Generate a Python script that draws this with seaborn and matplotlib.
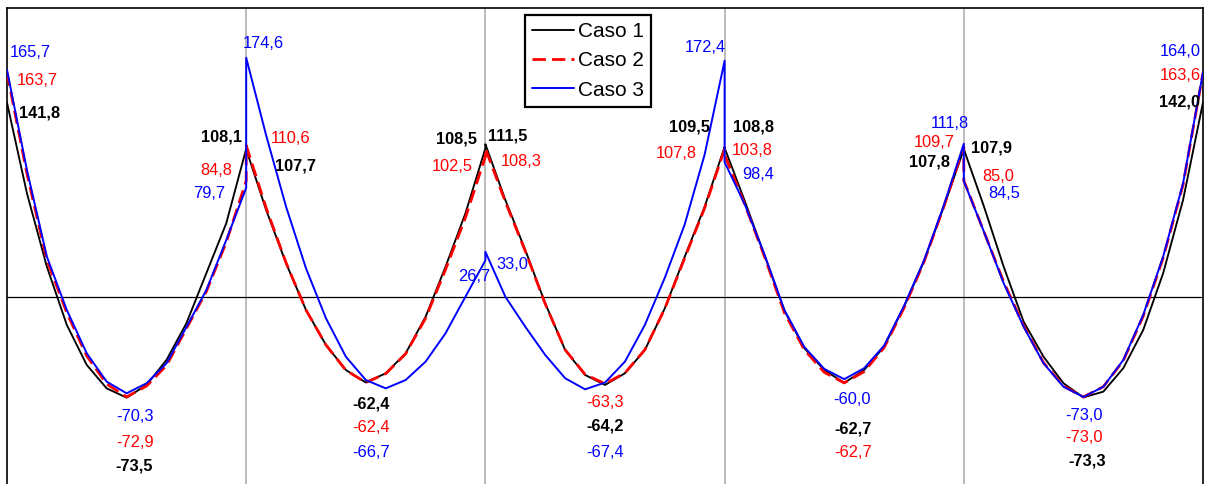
import matplotlib
matplotlib.use("Agg")
import matplotlib.pyplot as plt
import pandas as pd
import seaborn as sns

# Bending moment (kN·m) at 13 equally spaced sections of each of the 5 spans
casos = ["Caso 1", "Caso 2", "Caso 3"]

caso_1 = [
    [141.8, 75.7, 22.1, -20.4, -49.6, -66.7, -73.5, -64.2, -46.0, -19.2, 17.3, 53.8, 108.1],
    [107.7, 63.5, 24.6, -9.5, -35.0, -53.3, -62.4, -55.7, -41.1, -14.4, 22.1, 61.1, 108.5],
    [111.5, 70.8, 34.3, -4.6, -38.7, -56.9, -64.2, -55.7, -38.7, -8.3, 29.4, 65.9, 109.5],
    [108.8, 70.5, 30.5, -10.0, -37.4, -53.3, -62.7, -53.3, -36.3, -7.1, 26.0, 66.0, 107.8],
    [107.9, 66.5, 22.1, -18.0, -43.6, -63.0, -73.3, -69.1, -52.0, -24.1, 17.3, 70.8, 142.0],
]
caso_2 = [
    [163.7, 90.0, 27.0, -11.5, -43.0, -63.5, -72.9, -65.0, -50.0, -23.0, 4.0, 40.0, 84.8],
    [110.6, 65.0, 25.0, -9.5, -35.0, -53.5, -62.4, -56.0, -41.5, -15.5, 20.0, 58.0, 102.5],
    [108.3, 69.5, 33.5, -5.0, -38.5, -56.5, -63.3, -55.5, -38.5, -8.5, 28.5, 65.0, 107.8],
    [103.8, 68.0, 29.5, -11.5, -38.5, -55.0, -62.7, -54.5, -37.0, -8.0, 25.5, 66.0, 109.7],
    [85.0, 48.0, 11.0, -21.0, -48.0, -65.0, -73.0, -65.5, -46.5, -14.0, 28.5, 82.0, 163.6],
]
caso_3 = [
    [165.7, 92.7, 29.4, -9.5, -41.1, -61.8, -70.3, -63.0, -48.5, -22.0, 5.0, 41.6, 79.7],
    [174.6, 118.0, 65.9, 20.9, -15.5, -43.6, -60.6, -66.7, -60.6, -47.2, -26.5, 0.2, 26.7],
    [33.0, 0.2, -21.7, -42.3, -59.3, -67.4, -62.5, -47.2, -20.4, 14.0, 53.0, 104.0, 172.4],
    [98.4, 68.0, 31.0, -9.5, -36.5, -52.5, -60.0, -52.0, -35.5, -6.5, 26.5, 67.0, 111.8],
    [84.5, 48.0, 10.0, -21.7, -48.4, -65.5, -73.0, -65.5, -46.0, -13.1, 29.4, 83.0, 164.0],
]
momentos = [caso_1, caso_2, caso_3]

colores = ["#000000", "#ff0000", "#0000ff"]
anchos = [1.35, 2.0, 1.4]
estilos = ["-", (0, (4.8, 2.2)), "-"]

# Value labels: (case, span, anchor, alignment, dx px, dy px)
etiquetas = [
    (2, 0, "start", "left", 3, 17), (1, 0, "start", "left", 10, -8), (0, 0, "start", "left", 12, -10),
    (0, 0, "end", "right", -4, 12), (1, 0, "end", "right", -14, 10), (2, 0, "end", "right", -21, -6),
    (2, 1, "start", "center", 17, 14), (1, 1, "start", "left", 25, 6.5), (0, 1, "start", "left", 29, -17),
    (2, 0, "min", "center", 8, -23), (1, 0, "min", "center", 8, -46), (0, 0, "min", "center", 8, -68),
    (0, 1, "min", "center", 5.5, -21.5), (1, 1, "min", "center", 5.5, -45), (2, 1, "min", "center", 5.5, -64),
    (0, 1, "end", "right", -8, 9.5), (1, 1, "end", "right", -12.5, -9.5), (2, 1, "end", "right", 5, -16),
    (0, 2, "start", "left", 3, 8), (1, 2, "start", "left", 15, -12.5), (2, 2, "start", "left", 11, -12.5),
    (1, 2, "min", "center", 0, -19), (0, 2, "min", "center", 0, -41.5), (2, 2, "min", "center", 0, -63),
    (2, 2, "end", "center", -19.5, 13.5), (0, 2, "end", "right", -15, 19.5), (1, 2, "end", "right", -28, -4.5),
    (0, 3, "start", "left", 8, 20.5), (1, 3, "start", "left", 7, 4), (2, 3, "start", "left", 18, -12),
    (2, 3, "min", "center", 8, -20), (0, 3, "min", "center", 9, -46), (1, 3, "min", "center", 9, -69.5),
    (2, 3, "end", "center", -13.5, 20), (1, 3, "end", "right", -9, 4), (0, 3, "end", "right", -14, -13),
    (0, 4, "start", "left", 7, 1.5), (1, 4, "start", "left", 18.5, 4), (2, 4, "start", "left", 24, -12),
    (2, 4, "min", "center", 1, -18.5), (1, 4, "min", "center", 1, -40.5), (0, 4, "min", "center", 4, -63.5),
    (2, 4, "end", "right", -2, 21), (1, 4, "end", "right", -2, -3), (0, 4, "end", "right", -3, 0),
]

# Long-format table: one row per section, spans kept in order so the
# jumps at the supports are drawn as vertical segments
filas = []
for caso, datos in zip(casos, momentos):
    orden = 0
    for vano, valores in enumerate(datos):
        n = len(valores) - 1
        for k, m in enumerate(valores):
            filas.append({"caso": caso, "orden": orden, "x": vano + k / n, "M": m})
            orden += 1
df = pd.DataFrame(filas)

sns.set_style("white")
plt.rcParams["font.family"] = ["Liberation Sans", "DejaVu Sans"]
plt.rcParams["text.color"] = "black"

W, H = 1208, 484
fig = plt.figure(figsize=(W / 100, H / 100), dpi=100)
ax = fig.add_axes([7 / W, 0, (1203 - 7) / W, (H - 8) / H])

for i, caso in enumerate(casos):
    sub = df[df["caso"] == caso]
    sns.lineplot(data=sub, x="x", y="M", ax=ax, estimator=None, sort=False,
                 color=colores[i], linewidth=anchos[i], linestyle=estilos[i],
                 label=caso, zorder=3 + i)

for s in range(1, 5):
    ax.axvline(s, color="#a8a8a8", lw=1.1, zorder=1)
ax.axhline(0, color="black", lw=0.9, zorder=2)

ax.set_xlim(0, 5)
ax.set_ylim(-136.5, 210.9)
ax.set_xticks([])
ax.set_yticks([])
ax.set_xlabel("")
ax.set_ylabel("")
for lado in ("left", "top", "right"):
    ax.spines[lado].set_color("black")
    ax.spines[lado].set_linewidth(1.2)
ax.spines["bottom"].set_visible(False)


def fmt(v):
    return f"{v:.1f}".replace(".", ",")


for c, vano, ancla, ha, dx, dy in etiquetas:
    valores = momentos[c][vano]
    if ancla == "start":
        x, y = vano, valores[0]
    elif ancla == "end":
        x, y = vano + 1, valores[-1]
    else:
        x, y = vano + 0.5, min(valores)
    ax.annotate(fmt(y), xy=(x, y), xytext=(dx, dy), textcoords="offset pixels",
                ha=ha, va="center", fontsize=11.8, color=colores[c],
                fontweight="bold" if c == 0 else "normal",
                annotation_clip=False, zorder=6)

leg = ax.legend(loc="upper left", bbox_to_anchor=(525 / W, (H - 15) / H),
                bbox_transform=fig.transFigure, borderaxespad=0, fontsize=15,
                frameon=True, fancybox=False, framealpha=1, edgecolor="black",
                handlelength=2.0, handletextpad=0.22, labelspacing=0.5,
                borderpad=0.33, labelcolor="black")
leg.get_frame().set_linewidth(1.6)
leg.set_zorder(10)

fig.savefig("out.png", dpi=100)
